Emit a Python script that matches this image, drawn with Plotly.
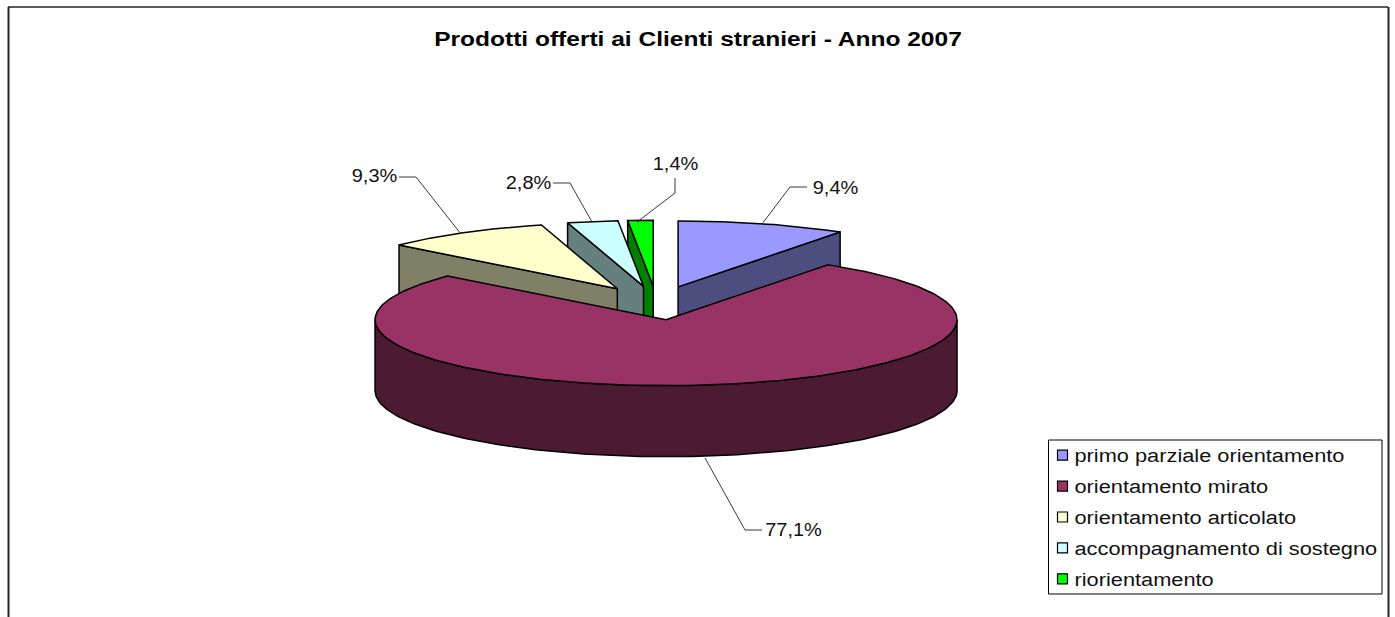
import numpy as np
import plotly.graph_objects as go

categories = ["primo parziale orientamento", "orientamento mirato", "orientamento articolato",
              "accompagnamento di sostegno", "riorientamento"]
values = [9.4, 77.1, 9.3, 2.8, 1.4]
top_colors = ["#9999FF", "#993366", "#FFFFCC", "#CCFFFF", "#00FF00"]
side_colors = ["#4D4D80", "#4D1A33", "#808066", "#668080", "#008000"]
title_text = "Prodotti offerti ai Clienti stranieri - Anno 2007"
draw_order = [4, 3, 2, 0, 1]

# projected-pie geometry, in page pixels
CX, CY, RX, RY, DEPTH, EXPLODE = 656.5, 303.0, 291.0, 66.0, 71.0, 0.255
# label anchor and leader path, page pixels
label_pos = [(835.5, 188), (793.5, 530), (374, 176), (528, 183), (675, 164)]
leaders = [
    [(762, 224), (790, 187), (807, 187)],
    [(705, 458), (745, 530), (762, 530)],
    [(461, 234), (416, 177), (399, 177)],
    [(592, 222), (570, 183), (553, 183)],
    [(637, 222), (675, 193), (675, 178)],
]
LINE = dict(color="black", width=1.5)

total = sum(values)
edges = np.cumsum([0] + values) / total * 2 * np.pi


def rim(cx, cy, a, dy=0.0):
    return cx + RX * np.sin(a), cy - RY * np.cos(a) + dy


def poly(x, y, color):
    return go.Scatter(x=list(x), y=list(y), mode="lines", fill="toself", fillcolor=color,
                      line=LINE, hoverinfo="skip", showlegend=False)


fig = go.Figure()
for i in draw_order:
    a0, a1 = edges[i], edges[i + 1]
    mid = (a0 + a1) / 2
    cx = CX + EXPLODE * RX * np.sin(mid)
    cy = CY - EXPLODE * RY * np.cos(mid)
    if a1 < np.pi / 2:
        ex, ey = rim(cx, cy, a1)
        fig.add_trace(poly([cx, ex, ex, cx, cx], [cy, ey, ey + DEPTH, cy + DEPTH, cy], side_colors[i]))
    if a0 > 3 * np.pi / 2:
        ex, ey = rim(cx, cy, a0)
        fig.add_trace(poly([cx, ex, ex, cx, cx], [cy, ey, ey + DEPTH, cy + DEPTH, cy], side_colors[i]))
    w0, w1 = max(a0, np.pi / 2), min(a1, 3 * np.pi / 2)
    if w1 > w0:
        t = np.linspace(w0, w1, 160)
        xu, yu = rim(cx, cy, t)
        xl, yl = rim(cx, cy, t[::-1], DEPTH)
        fig.add_trace(poly(np.r_[xu, xl, xu[0]], np.r_[yu, yl, yu[0]], side_colors[i]))
    t = np.linspace(a0, a1, 240)
    xt, yt = rim(cx, cy, t)
    fig.add_trace(poly(np.r_[cx, xt, cx], np.r_[cy, yt, cy], top_colors[i]))

for path in leaders:
    fig.add_trace(go.Scatter(x=[p[0] for p in path], y=[p[1] for p in path], mode="lines",
                             line=dict(color="#222222", width=0.9), hoverinfo="skip", showlegend=False))

for name, c in zip(categories, top_colors):
    fig.add_trace(go.Scatter(x=[None], y=[None], mode="markers", name=name, legendgroup=name,
                             marker=dict(symbol="square", size=10, color=c, line=dict(color="black", width=1.2))))

for v, pos in zip(values, label_pos):
    fig.add_annotation(x=pos[0], y=pos[1], xref="x", yref="y", text=f"{v:.1f}%".replace(".", ","),
                       showarrow=False, xanchor="center", yanchor="middle",
                       font=dict(family="Liberation Sans", size=18, color="#111111"))

fig.add_shape(type="line", xref="x", yref="y", x0=8.5, x1=8.5, y0=7, y1=617, line=dict(color="#222222", width=2))
fig.add_shape(type="line", xref="x", yref="y", x0=8, x1=1388, y0=7, y1=7, line=dict(color="#222222", width=1.5))
fig.add_shape(type="line", xref="x", yref="y", x0=1388.5, x1=1388.5, y0=7, y1=617, line=dict(color="#222222", width=2))
# legend frame
fig.add_shape(type="rect", xref="x", yref="y", x0=1048.5, x1=1382, y0=440, y1=594,
              fillcolor="white", line=dict(color="black", width=1), layer="above")

fig.update_layout(
    width=1395, height=617, autosize=False,
    margin=dict(l=0, r=0, t=0, b=0),
    paper_bgcolor="white", plot_bgcolor="white",
    title=dict(text=f"<b>{title_text}</b>", x=698 / 1395, xanchor="center", xref="paper",
               y=1 - 39 / 617, yanchor="middle", yref="paper",
               font=dict(family="Liberation Sans", size=19.5, color="black")),
    xaxis=dict(range=[0, 1395], visible=False, fixedrange=True),
    yaxis=dict(range=[617, 0], visible=False, fixedrange=True),
    legend=dict(x=1048.5 / 1395, xanchor="left", y=1 - 437 / 617, yanchor="top",
                bgcolor="rgba(0,0,0,0)", borderwidth=0,
                font=dict(family="Liberation Sans", size=18, color="#111111"),
                tracegroupgap=4.5, itemwidth=30, traceorder="grouped"),
)

# the reference's text is horizontally stretched (about 1.2x): widen the real text the same way
stretch = """
document.body.style.margin = '0';
function widen(sel, k) {
  document.querySelectorAll(sel).forEach(function (t) {
    t.setAttribute('textLength', t.getComputedTextLength() * k);
    t.setAttribute('lengthAdjust', 'spacingAndGlyphs');
  });
}
widen('.gtitle', 1.257);
widen('.annotation-text', 1.11);
widen('.legendtext', 1.21);
document.querySelectorAll('.legendtext').forEach(function (t) {
  t.setAttribute('x', parseFloat(t.getAttribute('x')) - 14);
});
document.querySelectorAll('.legendpoints').forEach(function (g) {
  g.setAttribute('transform', 'translate(-6,0)');
});
document.querySelectorAll('.legend, .legend .scrollbox, .legend .legendtoggle').forEach(function (g) {
  g.removeAttribute('clip-path');
  g.style.clipPath = 'none';
});
"""
fig.write_html("out.html", post_script=stretch, config={"displayModeBar": False})
